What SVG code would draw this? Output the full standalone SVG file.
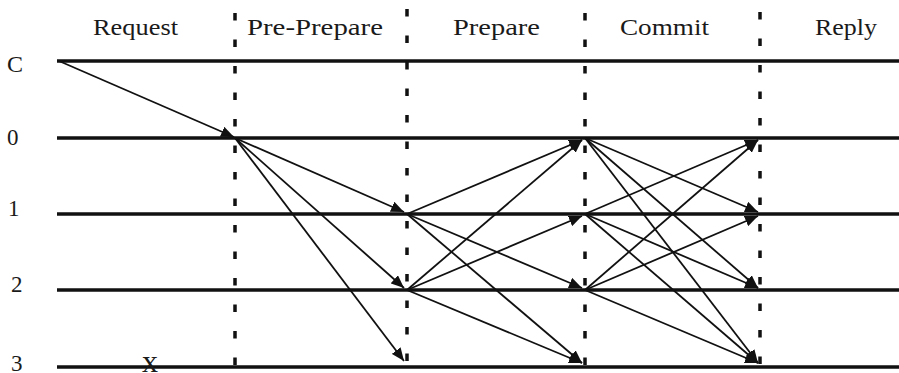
<svg xmlns="http://www.w3.org/2000/svg" width="899" height="373" viewBox="0 0 899 373">
<style>
  .lbl { font-family: "Liberation Serif", "Times New Roman", serif; font-size: 23px; fill: #1a1a1a; }
  .pl { font-family: "Liberation Serif", "Times New Roman", serif; font-size: 23px; fill: #1a1a1a; }
  .proc { stroke: #111; stroke-width: 3.5; fill: none; }
  .phase { stroke: #111; stroke-width: 3.5; stroke-dasharray: 7.5 19; fill: none; }
  .msg { stroke: #111; stroke-width: 1.8; fill: none; marker-end: url(#ah); }
</style>
<defs>
  <marker id="ah" markerUnits="userSpaceOnUse" markerWidth="14" markerHeight="11" refX="13" refY="5.5" orient="auto">
    <path d="M0,0 L13,5.5 L0,11 z" fill="#111"/>
  </marker>
</defs>
<rect width="899" height="373" fill="#fff"/>

<g id="phases">
  <g id="phase-request"><text class="lbl" x="93" y="35" textLength="85" lengthAdjust="spacingAndGlyphs">Request</text></g>
  <g id="phase-preprepare"><text class="lbl" x="247" y="35" textLength="136" lengthAdjust="spacingAndGlyphs">Pre-Prepare</text>
    <line class="phase" x1="235" y1="13" x2="235" y2="366"/></g>
  <g id="phase-prepare"><text class="lbl" x="453" y="35" textLength="87" lengthAdjust="spacingAndGlyphs">Prepare</text>
    <line class="phase" x1="407" y1="9" x2="407" y2="366"/></g>
  <g id="phase-commit"><text class="lbl" x="620" y="35" textLength="89" lengthAdjust="spacingAndGlyphs">Commit</text>
    <line class="phase" x1="585" y1="13" x2="585" y2="366"/></g>
  <g id="phase-reply"><text class="lbl" x="815" y="35" textLength="62" lengthAdjust="spacingAndGlyphs">Reply</text>
    <line class="phase" x1="760" y1="12" x2="760" y2="366"/></g>
</g>

<g id="proc-C"><text class="pl" x="7" y="72" style="font-size:24px">C</text><line class="proc" x1="57" y1="61" x2="899" y2="61"/></g>
<g id="proc-0"><text class="pl" x="7" y="145">0</text><line class="proc" x1="57" y1="138" x2="899" y2="138"/></g>
<g id="proc-1"><text class="pl" x="8" y="216">1</text><line class="proc" x1="57" y1="214" x2="899" y2="214"/></g>
<g id="proc-2"><text class="pl" x="11" y="292">2</text><line class="proc" x1="57" y1="290" x2="899" y2="290"/></g>
<g id="proc-3"><text class="pl" x="11" y="371">3</text><line class="proc" x1="57" y1="367" x2="899" y2="367"/>
  <text class="pl" x="150" y="372" text-anchor="middle" style="font-size:32px">x</text></g>

<g id="connectors">
  <line class="msg" x1="59" y1="61" x2="234" y2="137"/>
  <line class="msg" x1="235" y1="138" x2="404" y2="212"/>
  <line class="msg" x1="235" y1="138" x2="404" y2="288"/>
  <line class="msg" x1="235" y1="138" x2="404" y2="361"/>
  <line class="msg" x1="407" y1="214" x2="582" y2="140"/>
  <line class="msg" x1="407" y1="214" x2="582" y2="288"/>
  <line class="msg" x1="407" y1="214" x2="582" y2="363"/>
  <line class="msg" x1="407" y1="290" x2="582" y2="140"/>
  <line class="msg" x1="407" y1="290" x2="582" y2="216"/>
  <line class="msg" x1="407" y1="290" x2="582" y2="363"/>
  <line class="msg" x1="585" y1="138" x2="758" y2="212"/>
  <line class="msg" x1="585" y1="138" x2="758" y2="288"/>
  <line class="msg" x1="585" y1="138" x2="758" y2="363"/>
  <line class="msg" x1="585" y1="214" x2="758" y2="140"/>
  <line class="msg" x1="585" y1="214" x2="758" y2="288"/>
  <line class="msg" x1="585" y1="214" x2="758" y2="363"/>
  <line class="msg" x1="585" y1="290" x2="758" y2="140"/>
  <line class="msg" x1="585" y1="290" x2="758" y2="216"/>
  <line class="msg" x1="585" y1="290" x2="758" y2="363"/>
</g>
</svg>
